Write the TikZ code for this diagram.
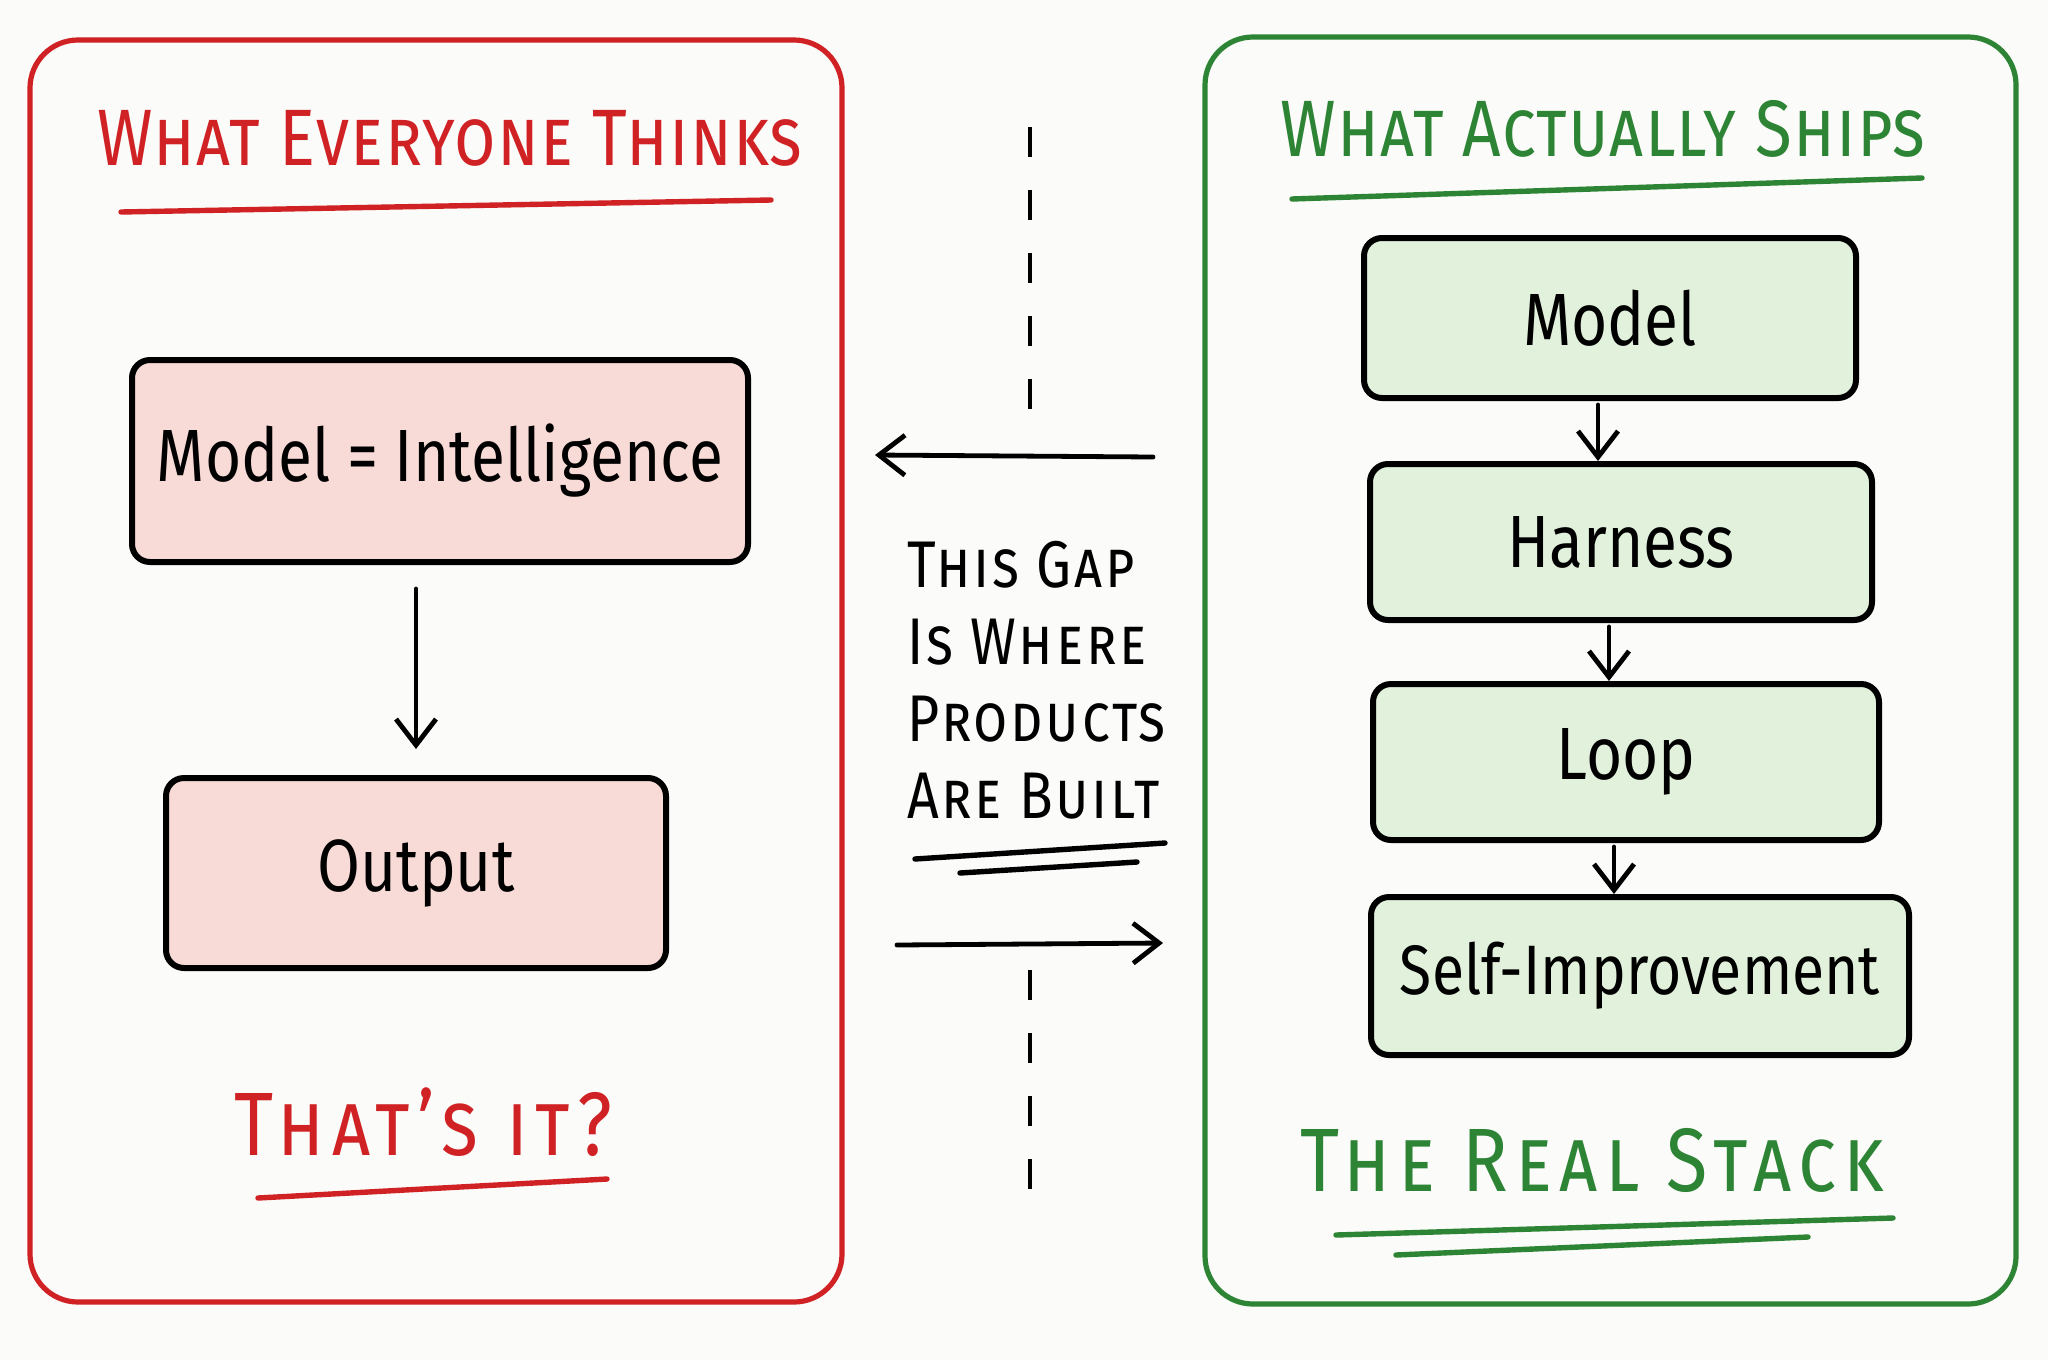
\documentclass[tikz,border=0pt]{standalone}
\usepackage{fontspec}
\setmainfont{Fira Sans}[FakeStretch=0.84]
\usetikzlibrary{arrows.meta}

\definecolor{thinkred}{RGB}{208,34,36}
\definecolor{shipgreen}{RGB}{44,132,52}
\definecolor{pinkfill}{RGB}{248,219,214}
\definecolor{mintfill}{RGB}{226,241,219}
\definecolor{paper}{RGB}{251,251,249}

\tikzset{
	panel/.style={line width=2.6pt, rounded corners=24pt},
	block/.style={draw=black, line width=3pt, rounded corners=9pt, inner sep=0pt, font=\fontsize{37}{40}\selectfont},
	heading/.style={font=\fontsize{40}{44}\selectfont\scshape\addfontfeature{LetterSpace=1.5}},
	bigheading/.style={font=\fontsize{45}{48}\selectfont\scshape\addfontfeature{LetterSpace=8}},
	gapnote/.style={align=left, font=\fontsize{33}{38.5}\selectfont\scshape\addfontfeature{LetterSpace=4}},
	flow/.style={line width=2.4pt, line cap=round, -{Straight Barb[length=13pt,width=20pt]}},
	underline/.style={line width=2.7pt, line cap=round},
	cut/.style={line width=2pt, dash pattern=on 15pt off 16.5pt},
}

\begin{document}
\begin{tikzpicture}[x=0.5pt, y=0.5pt]
	\fill[paper] (0,0) rectangle (2048,-1360);
	\useasboundingbox (0,0) rectangle (2048,-1360);

	\draw[panel, thinkred] (30,-40) rectangle (842,-1302);
	\draw[panel, shipgreen] (1205,-37) rectangle (2016,-1304);

	\node[heading, thinkred] (thinks) at (450,-138) {What Everyone Thinks};
	\draw[underline, thinkred] (121,-212) -- (771,-200);
	\node[block, fill=pinkfill, minimum width=308pt, minimum height=101pt] (mi) at (440,-461) {Model = Intelligence};
	\node[block, fill=pinkfill, minimum width=250pt, minimum height=95pt] (out) at (416,-873) {Output};
	\draw[flow, shorten <=12pt, shorten >=13pt] (mi.south -| out.north) -- (out.north);
	\node[bigheading, thinkred] (thatsit) at (423,-1122) {That's it?};
	\draw[underline, thinkred] (258,-1198) -- (607,-1179);

	\node[heading, shipgreen] (ships) at (1603,-129) {What Actually Ships};
	\draw[underline, shipgreen] (1292,-199) -- (1922,-178);
	\node[block, fill=mintfill, minimum width=246pt, minimum height=80pt] (model) at (1610,-318) {Model};
	\node[block, fill=mintfill, minimum width=251pt, minimum height=78pt] (harness) at (1621,-542) {Harness};
	\node[block, fill=mintfill, minimum width=253pt, minimum height=78pt] (loop) at (1626,-762) {Loop};
	\node[block, fill=mintfill, minimum width=269pt, minimum height=79pt, font=\fontsize{35}{40}\selectfont] (selfimp) at (1640,-976) {Self-Improvement};
	\foreach \a/\b in {model/harness, harness/loop, loop/selfimp}
		\draw[flow, shorten <=2pt] ([xshift=-6pt]\a.south) -- ([xshift=-6pt]\a.south |- \b.north);
	\node[bigheading, shipgreen] (stack) at (1592,-1160) {The Real Stack};
	\draw[underline, shipgreen] (1336,-1235) -- (1893,-1218);
	\draw[underline, shipgreen] (1396,-1255) -- (1808,-1237);

	\coordinate (cuttop) at (1030,-127);
	\coordinate (cutmid) at (1030,-411);
	\coordinate (cutlow) at (1030,-970);
	\coordinate (cutend) at (1030,-1209);
	\draw[cut] (cuttop) -- (cutmid);
	\draw[cut] (cutlow) -- (cutend);

	\coordinate (backtail) at (1153,-457);
	\coordinate (backhead) at (875,-455);
	\draw[flow] (backtail) -- (backhead);
	\node[gapnote, anchor=west] (gap) at (900,-680) {This Gap\\Is Where\\Products\\Are Built};
	\draw[underline] (915,-859) -- (1165,-843);
	\draw[underline] (960,-873) -- (1137,-862);
	\coordinate (fwdtail) at (897,-945);
	\coordinate (fwdhead) at (1163,-943);
	\draw[flow] (fwdtail) -- (fwdhead);
\end{tikzpicture}
\end{document}
